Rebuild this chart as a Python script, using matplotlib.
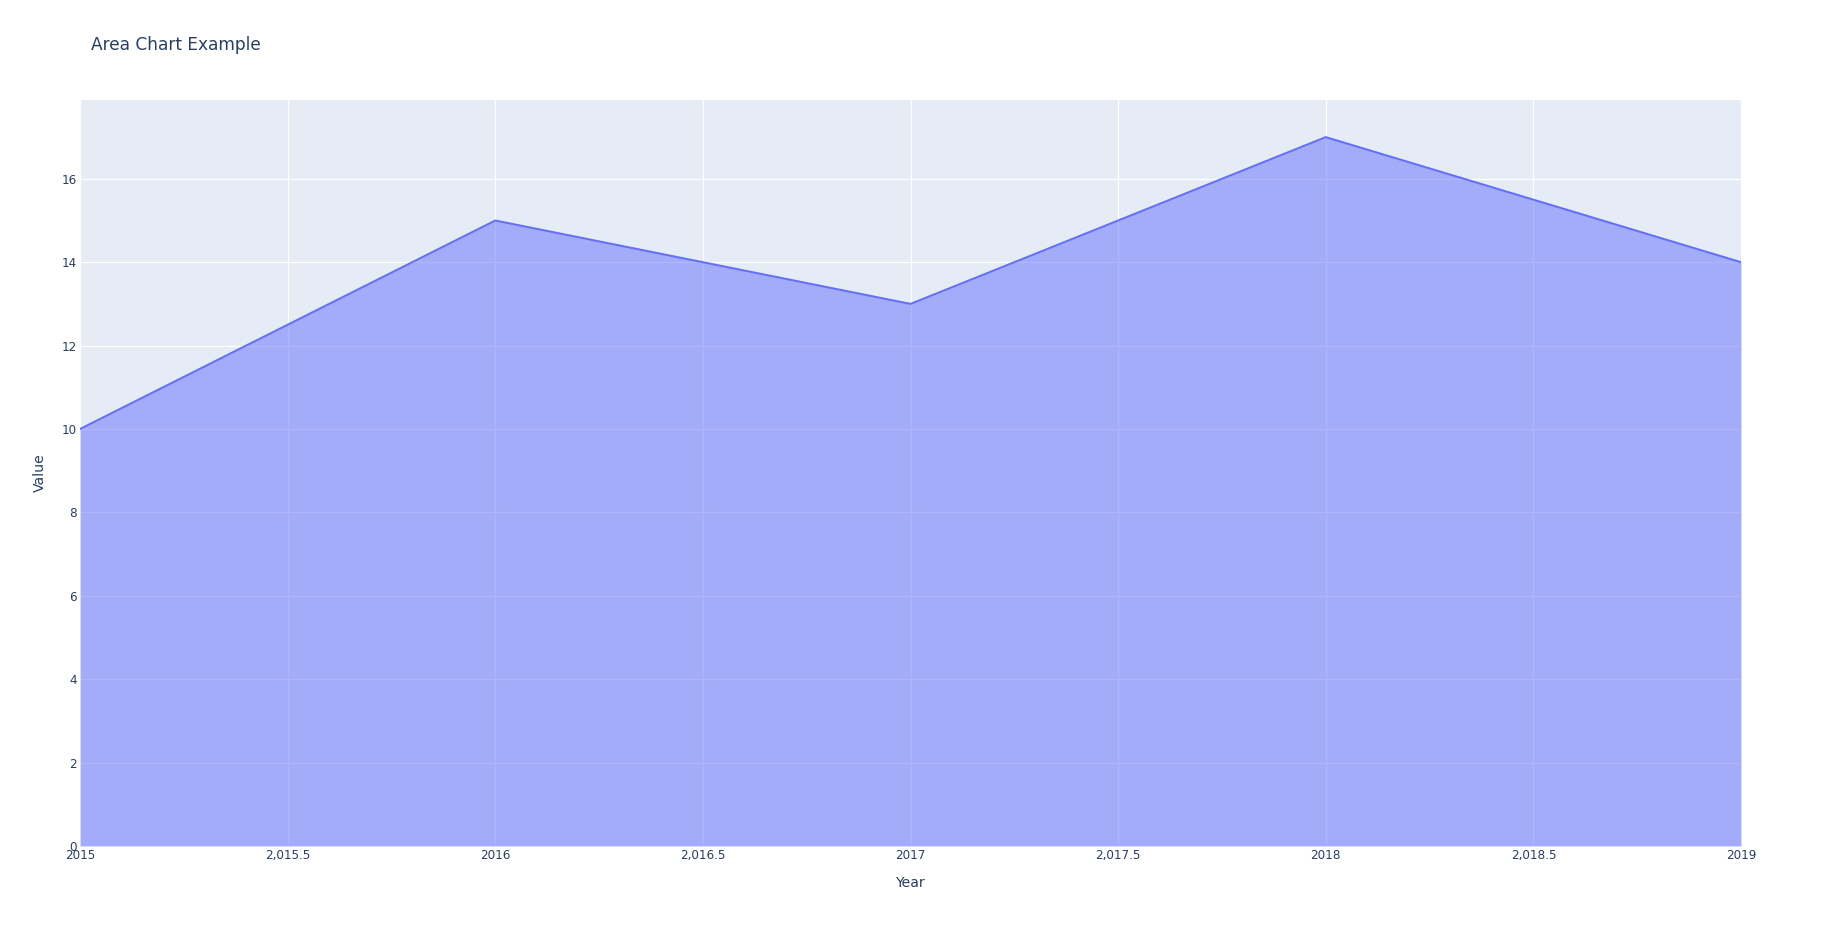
import matplotlib
matplotlib.use("Agg")
import matplotlib.pyplot as plt

years = [2015, 2016, 2017, 2018, 2019]
values = [10, 15, 13, 17, 14]
x_ticks = [2015, 2015.5, 2016, 2016.5, 2017, 2017.5, 2018, 2018.5, 2019]
x_tick_labels = ["2015", "2,015.5", "2016", "2,016.5", "2017", "2,017.5", "2018", "2,018.5", "2019"]
y_ticks = [0, 2, 4, 6, 8, 10, 12, 14, 16]

text_col = "#2a3f5f"
line_col = "#636efa"
plt.rcParams['font.family'] = ['DejaVu Sans']

W, H = 1821, 926
fig = plt.figure(figsize=(W / 100, H / 100), dpi=100)
ax = fig.add_axes([80 / W, (H - 846) / H, (1741 - 80) / W, (846 - 100) / H])
ax.set_facecolor("#e5ecf6")

ax.fill_between(years, values, 0, color=line_col, alpha=0.5, linewidth=0, zorder=3)
ax.plot(years, values, color=line_col, linewidth=1.44, zorder=4)

ax.set_xlim(2015, 2019)
ax.set_ylim(0, 17.89)
ax.set_xticks(x_ticks)
ax.set_xticklabels(x_tick_labels)
ax.set_yticks(y_ticks)
ax.grid(True, color="white", linewidth=0.9, zorder=1)
ax.set_axisbelow(True)
for s in ax.spines.values():
    s.set_visible(False)
ax.tick_params(length=0, labelsize=8.64, labelcolor=text_col, pad=2)
ax.tick_params(axis='y', pad=2)

ax.set_xlabel("Year", fontsize=10.08, color=text_col, labelpad=10)
ax.set_ylabel("Value", fontsize=10.08, color=text_col, labelpad=11)
fig.text(91 / W, 1 - 45 / H, "Area Chart Example", fontsize=12.24, color=text_col,
         ha="left", va="center")

fig.savefig("out.png", dpi=100, facecolor="white")
